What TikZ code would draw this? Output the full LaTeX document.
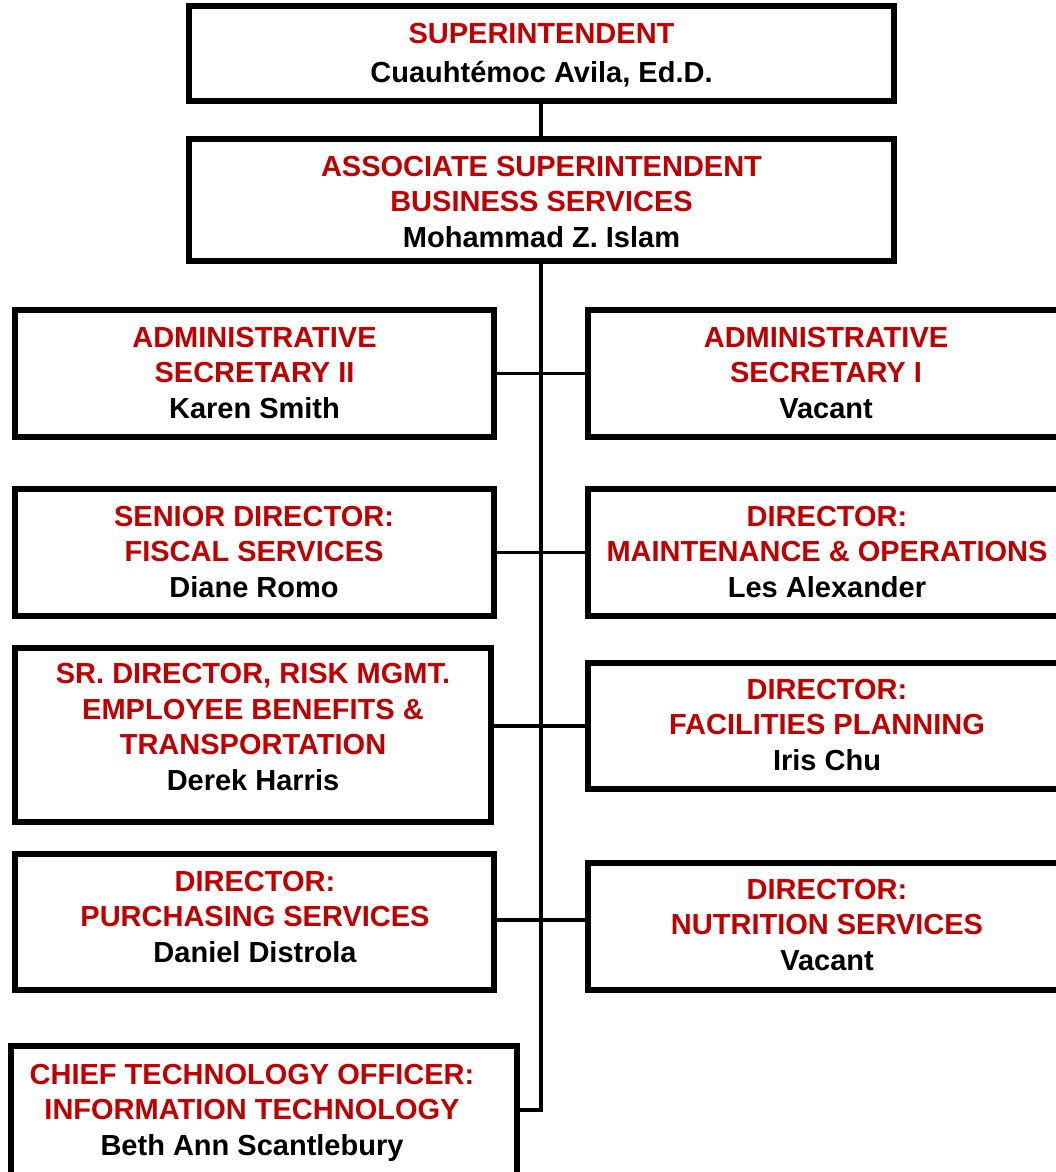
\documentclass[tikz,border=0pt]{standalone}
\usepackage{fontspec}
\setmainfont{Liberation Sans}
\definecolor{titlered}{RGB}{192,0,0}
\tikzset{
  box/.style={draw=black, line width=6pt, fill=white, inner sep=0pt, rectangle},
  conn/.style={draw=black, line width=3.2pt},
  txt/.style={align=center, anchor=base, inner sep=0pt, font=\bfseries\fontsize{29}{35.5}\selectfont}
}
\newcommand{\rd}[1]{\textcolor{titlered}{#1}}
\begin{document}
\begin{tikzpicture}[x=1pt,y=1pt,yscale=-1]
\useasboundingbox (0,0) rectangle (1056,1172);
\clip (0,0) rectangle (1056,1172);
% boxes
\node[box, minimum width=705, minimum height=95]  (sup)   at (541.5,53.5) {};
\node[box, minimum width=705, minimum height=122] (assoc) at (541.5,200) {};
\node[box, minimum width=479, minimum height=127] (as2)   at (254.5,373.5) {};
\node[box, minimum width=478, minimum height=127] (as1)   at (827,373.5) {};
\node[box, minimum width=479, minimum height=127] (sfs)   at (254.5,552.5) {};
\node[box, minimum width=478, minimum height=127] (mo)    at (827,552.5) {};
\node[box, minimum width=476, minimum height=174] (risk)  at (253,735) {};
\node[box, minimum width=478, minimum height=126] (fac)   at (827,726) {};
\node[box, minimum width=479, minimum height=136] (pur)   at (254.5,922) {};
\node[box, minimum width=478, minimum height=127] (nut)   at (827,926.5) {};
\node[box, minimum width=506, minimum height=134] (cto)   at (264,1113) {};
% texts (anchor = baseline of last line)
\node[txt, font=\bfseries\fontsize{29}{39}\selectfont] (tsup) at (541.5,82.4) {\rd{SUPERINTENDENT}\\Cuauht\'emoc Avila, Ed.D.};
\node[txt] (tassoc) at (541.5,247.4) {\rd{ASSOCIATE SUPERINTENDENT}\\\rd{BUSINESS SERVICES}\\Mohammad Z. Islam};
\node[txt] (tas2) at (254.5,418.4) {\rd{ADMINISTRATIVE}\\\rd{SECRETARY II}\\Karen Smith};
\node[txt] (tas1) at (826,418.4) {\rd{ADMINISTRATIVE}\\\rd{SECRETARY I}\\Vacant};
\node[txt] (tsfs) at (254,597.4) {\rd{SENIOR DIRECTOR:}\\\rd{FISCAL SERVICES}\\Diane Romo};
\node[txt] (tmo) at (827,597.4) {\rd{DIRECTOR:}\\\rd{MAINTENANCE \& OPERATIONS}\\Les Alexander};
\node[txt] (trisk) at (253,790.4) {\rd{SR. DIRECTOR, RISK MGMT.}\\\rd{EMPLOYEE BENEFITS \&}\\\rd{TRANSPORTATION}\\Derek Harris};
\node[txt] (tfac) at (827,770.4) {\rd{DIRECTOR:}\\\rd{FACILITIES PLANNING}\\Iris Chu};
\node[txt] (tpur) at (255,962.4) {\rd{DIRECTOR:}\\\rd{PURCHASING SERVICES}\\Daniel Distrola};
\node[txt] (tnut) at (827,970.4) {\rd{DIRECTOR:}\\\rd{NUTRITION SERVICES}\\Vacant};
\node[txt] (tcto) at (252,1155.4) {\rd{CHIEF TECHNOLOGY OFFICER:}\\\rd{INFORMATION TECHNOLOGY}\\Beth Ann Scantlebury};
% connector coordinates
\coordinate (trunkx) at (541,0);
\coordinate (c3) at (541,726);
\coordinate (c4) at (541,920);
\coordinate (c5) at (541,1110);
% connectors
\draw[conn] (sup.south -| trunkx) -- (assoc.north -| trunkx);
\draw[conn] (assoc.south -| trunkx) -- (c5) -- (cto.east |- c5);
\draw[conn] (as2.east) -- (as1.west);
\draw[conn] (sfs.east) -- (mo.west);
\draw[conn] (risk.east |- c3) -- (fac.west |- c3);
\draw[conn] (pur.east |- c4) -- (nut.west |- c4);
\end{tikzpicture}
\end{document}
